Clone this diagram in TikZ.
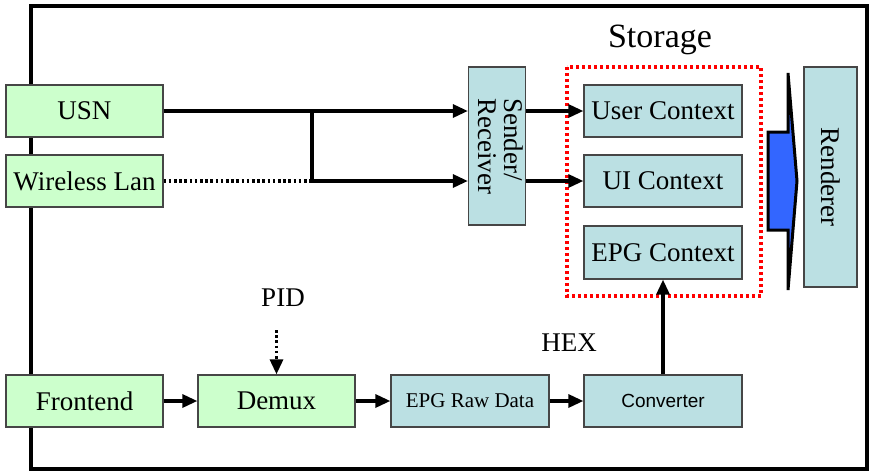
\documentclass[tikz,border=0pt]{standalone}
\usepackage{fontspec}
\setmainfont{Liberation Serif}
\newfontfamily\arialfont{Liberation Sans}
\usetikzlibrary{arrows.meta}

\definecolor{inputgreen}{RGB}{204,255,204}
\definecolor{ctxcyan}{RGB}{187,224,227}
\definecolor{boxline}{RGB}{70,70,70}
\definecolor{pushblue}{RGB}{51,102,255}

\begin{document}
\begin{tikzpicture}[x=1pt,y=-1pt,
  inbox/.style={rectangle,draw=boxline,line width=1.3pt,fill=inputgreen,minimum width=157pt,
    minimum height=52pt,inner sep=1pt,font=\fontsize{27}{29}\selectfont},
  ctx/.style={inbox,fill=ctxcyan},
  flow/.style={-{Triangle[length=15pt,width=13pt]},line width=3.2pt},
  dots/.style={line width=3.2pt,dash pattern=on 2.6pt off 2.6pt},
  lbl/.style={font=\fontsize{27}{29}\selectfont}
]
  \useasboundingbox (0,0) rectangle (873,472);
  \draw[line width=3.2pt] (31,6) rectangle (867,469);

  % inputs
  \node[inbox] (usn) at (84.5,111) {USN};
  \node[inbox] (wlan) at (84.5,181) {Wireless Lan};
  \node[inbox] (front) at (84.5,401) {Frontend};
  \node[inbox] (demux) at (276.5,401) {Demux};

  \node[ctx,minimum width=54pt,minimum height=158pt] (sr) at (497,146)
    {\rotatebox{-90}{\begin{tabular}{@{}l@{}}Sender/\\[-3pt]Receiver\end{tabular}}};

  % storage
  \draw[red,line width=3.2pt,dash pattern=on 3pt off 3pt] (567,67) rectangle (761,296);
  \node[font=\fontsize{34}{36}\selectfont] (storage) at (660,40) {Storage};
  \node[ctx,minimum width=158pt] (user) at (663,111) {User Context};
  \node[ctx,minimum width=158pt] (ui) at (663,181) {UI Context};
  \node[ctx,minimum width=158pt,minimum height=53pt] (epg) at (663,252.5) {EPG Context};

  \node[ctx,minimum width=53pt,minimum height=220pt] (rend) at (830.5,177)
    {\rotatebox{-90}{Renderer}};
  \draw[line width=3pt,fill=pushblue,line join=miter] (768,132) -- (788,132) -- (788,73)
    -- (797,181) -- (788,290) -- (788,230) -- (768,230) -- cycle;

  \node[ctx,minimum width=158pt,font=\fontsize{21}{23}\selectfont] (raw) at (470,401) {EPG Raw Data};
  \node[ctx,minimum width=158pt,font=\arialfont\fontsize{19}{21}\selectfont] (conv) at (663,401) {Converter};

  \node[lbl] (pid) at (283,298) {PID};
  \node[lbl] (hex) at (569,343) {HEX};

  % connectors
  \coordinate (jn) at (312,181);
  \coordinate (pidsrc) at (276.5,330);
  \draw[flow] (usn.east) -- (usn.east -| sr.west);
  \draw[dots] (wlan.east) -- (jn);
  \draw[line width=3.2pt] (usn.east -| jn) -- (jn);
  \draw[flow] (jn) -- (jn -| sr.west);
  \draw[flow] (sr.east |- user) -- (user.west);
  \draw[flow] (sr.east |- ui) -- (ui.west);
  \draw[dots,-{Triangle[length=15pt,width=13pt]}] (pidsrc) -- (demux.north);
  \draw[flow] (front) -- (demux);
  \draw[flow] (demux) -- (raw);
  \draw[flow] (raw) -- (conv);
  \draw[flow] (conv) -- (epg);
\end{tikzpicture}
\end{document}
